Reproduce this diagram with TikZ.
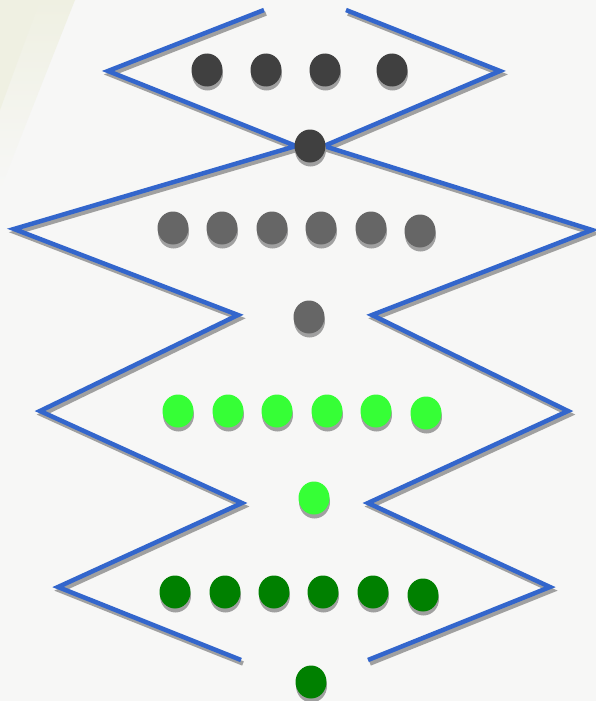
\documentclass[tikz,border=0pt]{standalone}
\usetikzlibrary{shapes.geometric,shadows}
\definecolor{bg}{HTML}{F7F7F6}
\definecolor{bgy}{HTML}{EFF0E2}
\definecolor{zig}{HTML}{3366CC}
\definecolor{shd}{HTML}{A0A0A0}
\definecolor{dk}{HTML}{404040}
\definecolor{md}{HTML}{666666}
\definecolor{lg}{HTML}{36FF36}
\definecolor{dg}{HTML}{008000}
\tikzset{
  zigline/.style={draw=zig, line width=4.5pt, line join=miter,
    preaction={draw=shd, line width=4.5pt, transform canvas={xshift=2pt,yshift=-3.5pt}}},
  dot/.style={ellipse, minimum width=31pt, minimum height=33pt, inner sep=0pt,
    general shadow={shadow xshift=0.5pt, shadow yshift=-4pt, fill=shd}},
  dotdk/.style={dot, fill=dk},
  dotmd/.style={dot, fill=md},
  dotlg/.style={dot, fill=lg},
  dotdg/.style={dot, fill=dg}
}
\begin{document}
\begin{tikzpicture}[x=1pt,y=-1pt]
\useasboundingbox (0,0) rectangle (596,701);
\fill[bg] (0,0) rectangle (596,701);
\shade[left color=bgy, right color=bg, shading angle=0] (0,0) -- (75,0) -- (0,190) -- cycle;
\fill[bgy] (0,0) -- (40,0) -- (0,110) -- cycle;
% zigzag lines
\draw[zigline] (264,10) -- (108,71) -- (296,146) -- (14,229) -- (238,315) -- (40,411) -- (242,503) -- (58,587) -- (241,660);
\draw[zigline] (346,10) -- (500,71) -- (324,146) -- (592,230) -- (372,315) -- (568,411) -- (368,503) -- (550,587) -- (368,660);
% row 1
\node[dotdk] (a1) at (207,70) {};
\node[dotdk] (a2) at (266,70) {};
\node[dotdk] (a3) at (325,70) {};
\node[dotdk] (a4) at (392,70) {};
\node[dotdk] (a0) at (310,146) {};
% row 2
\node[dotmd] (b1) at (173,228) {};
\node[dotmd] (b2) at (222,228) {};
\node[dotmd] (b3) at (272,228) {};
\node[dotmd] (b4) at (321,228) {};
\node[dotmd] (b5) at (371,228) {};
\node[dotmd] (b6) at (420,231) {};
\node[dotmd] (b0) at (309,317) {};
% row 3
\node[dotlg] (c1) at (178,411) {};
\node[dotlg] (c2) at (228,411) {};
\node[dotlg] (c3) at (277,411) {};
\node[dotlg] (c4) at (327,411) {};
\node[dotlg] (c5) at (376,411) {};
\node[dotlg] (c6) at (426,413) {};
\node[dotlg] (c0) at (314,498) {};
% row 4
\node[dotdg] (d1) at (175,592) {};
\node[dotdg] (d2) at (225,592) {};
\node[dotdg] (d3) at (274,592) {};
\node[dotdg] (d4) at (323,592) {};
\node[dotdg] (d5) at (373,592) {};
\node[dotdg] (d6) at (423,595) {};
\node[dotdg] (d0) at (311,682) {};
\end{tikzpicture}
\end{document}
